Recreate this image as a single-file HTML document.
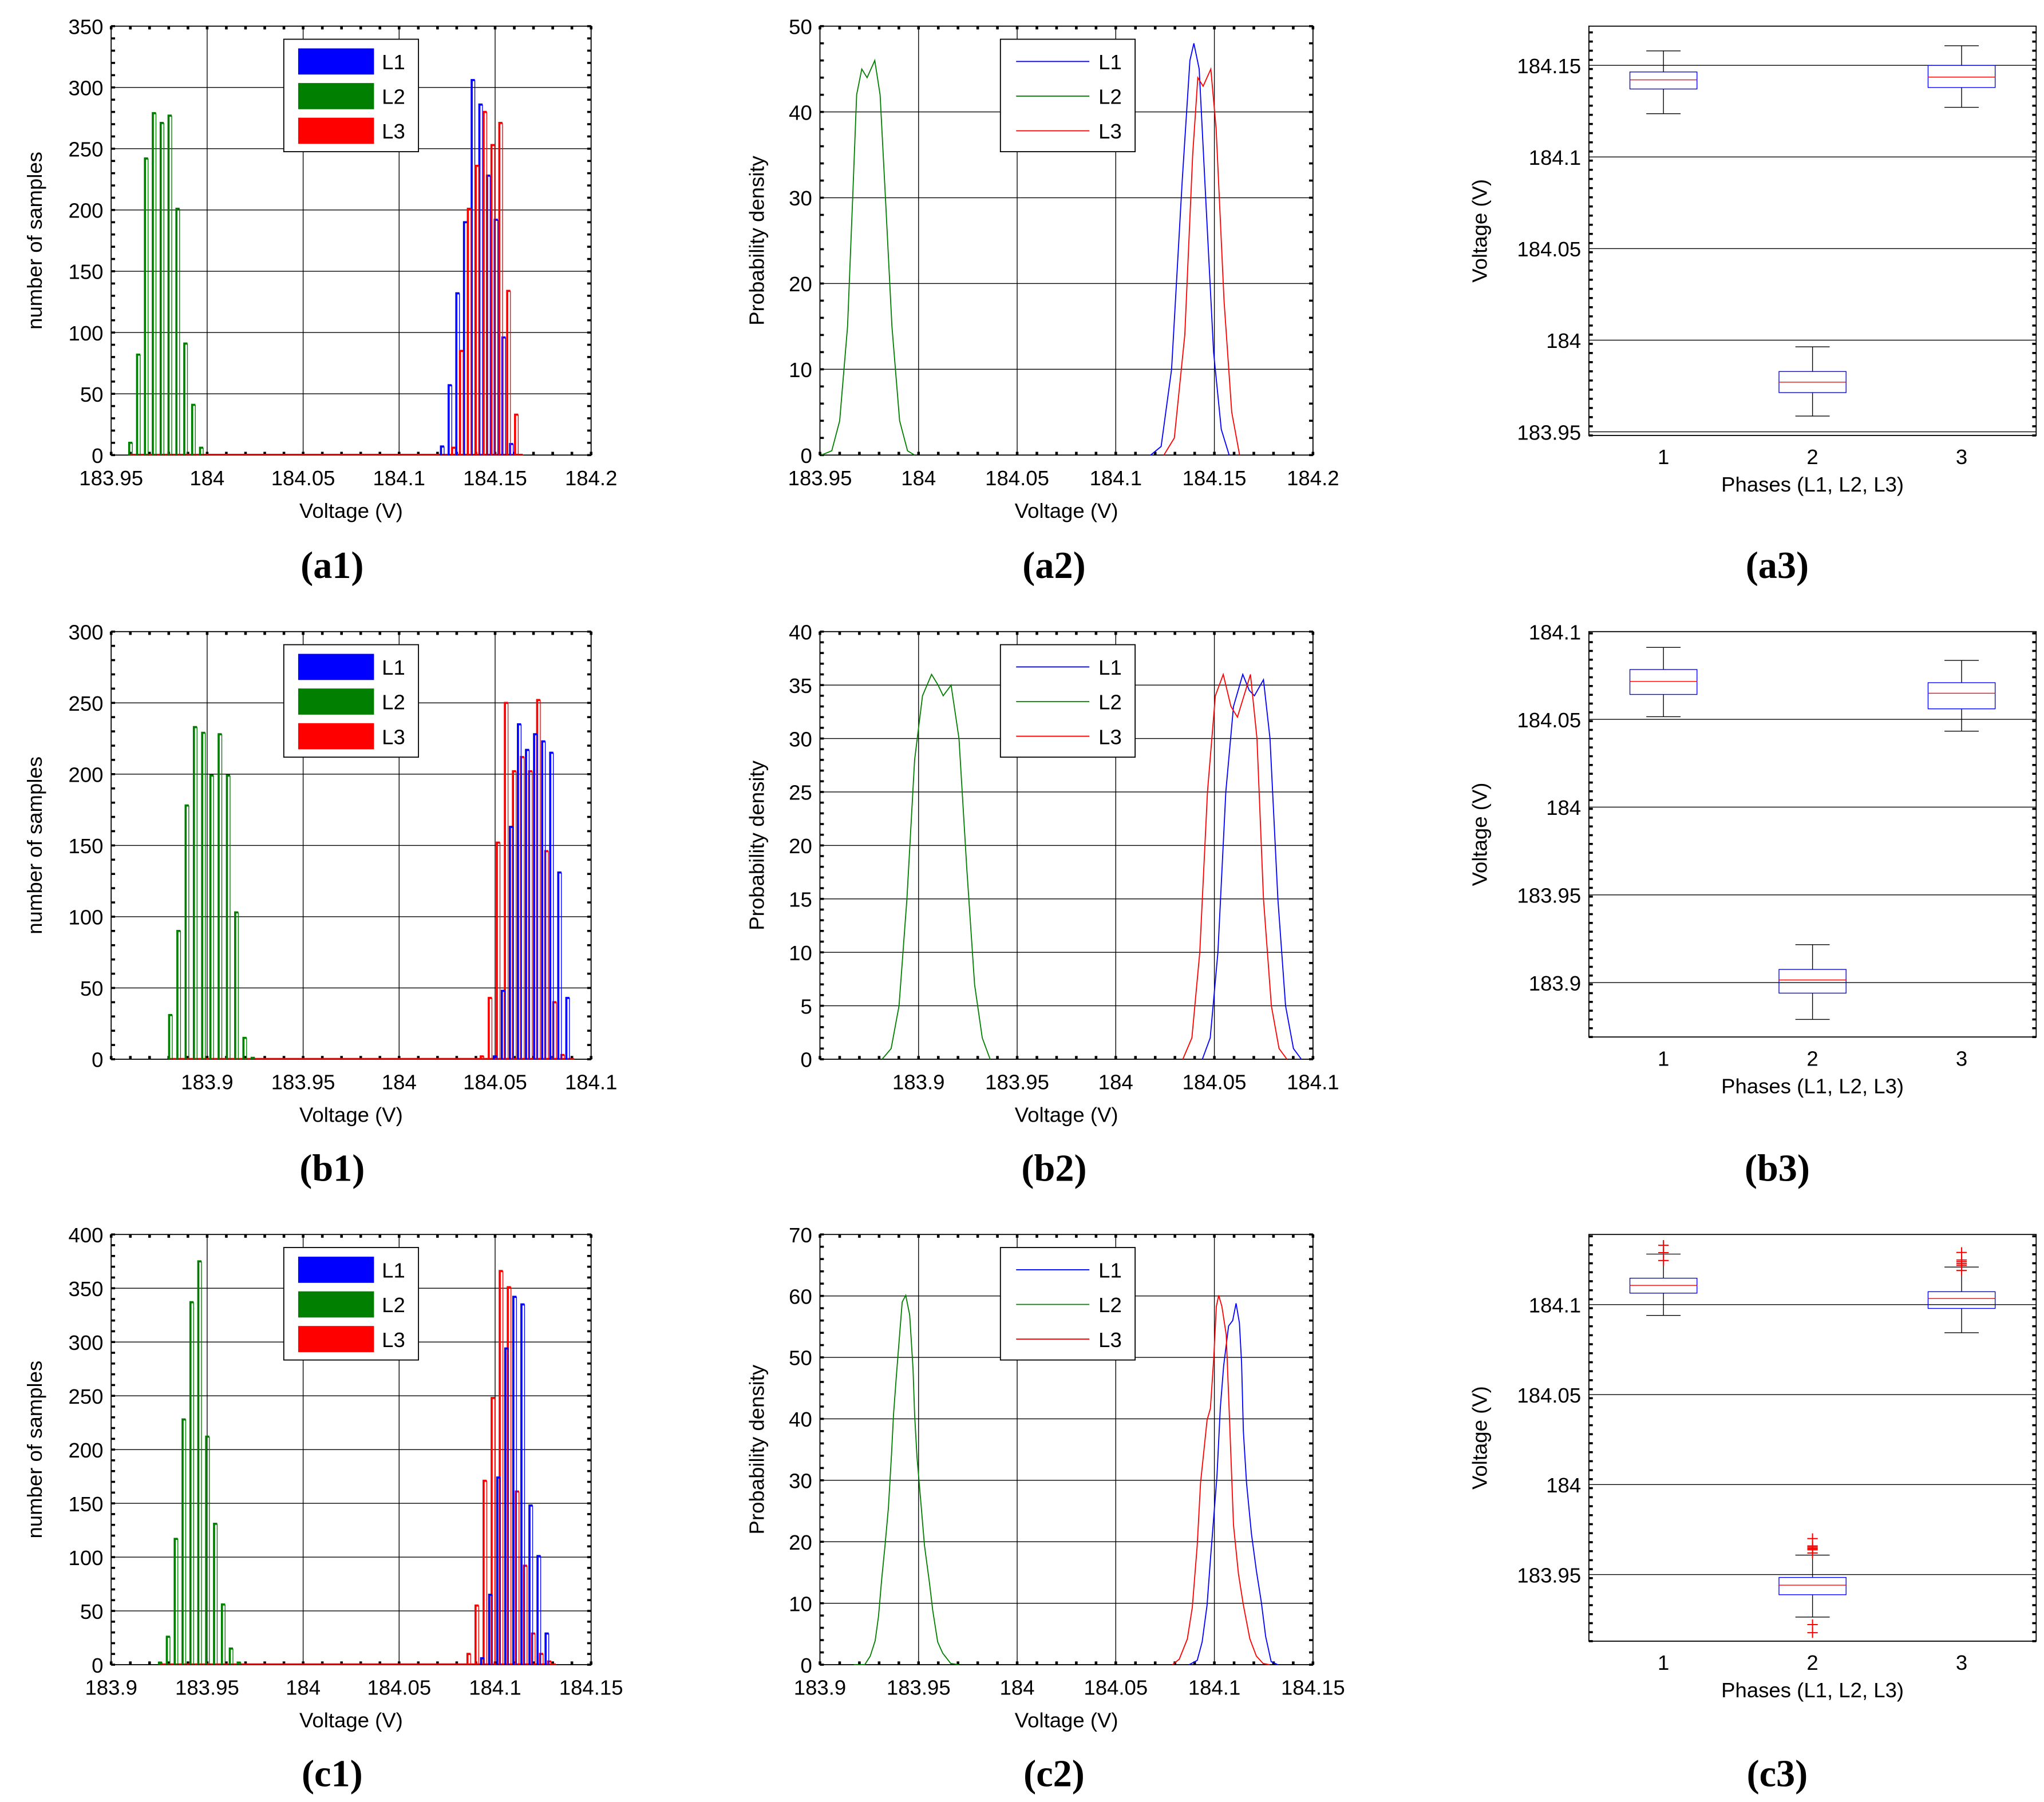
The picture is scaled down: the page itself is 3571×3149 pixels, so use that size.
<!DOCTYPE html>
<html><head><meta charset="utf-8"><style>
html,body{margin:0;padding:0;background:#fff}
svg{display:block}
text{font-family:"Liberation Sans",Arial,sans-serif;fill:#000}
.pl{font-family:"Liberation Serif",serif;font-weight:bold}
</style></head><body>
<svg id="fig" xmlns="http://www.w3.org/2000/svg" width="3571" height="3149" viewBox="0 0 1563 1378" preserveAspectRatio="none"></svg>
<script>
// ---------- histogram data ----------
const a1L1Start=184.1218, a1L1Step=0.0040, a1L1=[7,57,132,190,306,286,228,192,96,9];
const a1L2Start=183.9594, a1L2Step=0.0041, a1L2=[10,82,242,279,271,277,201,91,41,6];
const a1L3Start=184.1276, a1L3Step=0.0041, a1L3=[6,85,201,236,280,253,271,134,33];
const b1L1Start=184.0493, b1L1Step=0.0042, b1L1=[2,48,163,235,217,228,223,215,131,43];
const b1L2Start=183.8802, b1L2Step=0.0043, b1L2=[31,90,178,233,229,199,228,199,103,15,1];
const b1L3Start=184.0425, b1L3Step=0.0042, b1L3=[2,43,152,250,202,212,202,252,146,40,3];
const c1L1Start=184.0927, c1L1Step=0.0042, c1L1=[6,65,174,294,342,335,148,101,29];
const c1L2Start=183.9249, c1L2Step=0.0041, c1L2=[2,26,117,228,337,375,212,131,56,15,2];
const c1L3Start=184.0856, c1L3Step=0.0042, c1L3=[10,55,171,248,366,351,161,92,29,10,3];
// ---------- density data ----------
const a2L2x=[183.9507,183.956,183.960,183.964,183.9666,183.9686,183.9712,183.9739,183.9778,183.9805,183.9832,183.9865,183.9904,183.9944,183.998];
const a2L2y=[0,0.5,4,15,30,42,45,44,46,42,30,15,4,0.5,0];
const a2L1x=[184.1177,184.1230,184.1283,184.1337,184.1376,184.1396,184.1423,184.1456,184.1496,184.1535,184.1575];
const a2L1y=[0,1,10,32,46,48,45,30,12,3,0];
const a2L3x=[184.1244,184.1297,184.1350,184.1390,184.1416,184.1443,184.1482,184.1509,184.1549,184.1588,184.1628];
const a2L3y=[0,2,14,35,44,43,45,38,18,5,0];
const b2L2x=[183.8815,183.8861,183.8901,183.8941,183.8980,183.9020,183.9066,183.9099,183.9125,183.9165,183.9205,183.9244,183.9284,183.9323,183.9363];
const b2L2y=[0,1,5,15,28,34,36,35,34,35,30,18,7,2,0];
const b2L3x=[184.0340,184.0386,184.0426,184.0465,184.0505,184.0545,184.0584,184.0617,184.0650,184.0683,184.0716,184.0749,184.0789,184.0828,184.0868];
const b2L3y=[0,2,10,25,34,36,33,32,34,36,30,15,5,1,0];
const b2L1x=[184.0439,184.0479,184.0518,184.0558,184.0597,184.0644,184.0677,184.0703,184.0749,184.0782,184.0822,184.0861,184.0901,184.0941];
const b2L1y=[0,2,10,25,33,36,34.5,34,35.5,30,15,5,1,0];
const c2L2x=[183.9172,183.9227,183.9255,183.9280,183.9297,183.9313,183.9330,183.9347,183.9363,183.9373,183.9388,183.9417,183.9435,183.9455,183.9472,183.9480,183.9492,183.9513,183.9530,183.9555,183.9572,183.9597,183.9622,183.9663,183.9705];
const c2L2y=[0,0,1.4,3.9,7.9,13.9,19.4,25.5,34.3,40.7,47.2,59,60.1,56.9,48.1,40.7,33.8,25.9,19.4,13.4,8.8,3.7,1.9,0.2,0];
const c2L3x=[184.0788,184.0822,184.0863,184.0888,184.0913,184.0930,184.0963,184.0980,184.0997,184.1010,184.1022,184.1038,184.1060,184.1077,184.1097,184.1122,184.1147,184.1180,184.1213,184.1247,184.1280];
const c2L3y=[0,0.9,4.2,9.3,19.4,29.6,39.8,41.7,50,58.3,60.1,58.3,53.7,39.8,22.7,14.8,9.7,4.2,1.4,0.2,0];
const c2L1x=[184.0872,184.0913,184.0938,184.0963,184.0980,184.0997,184.1013,184.1030,184.1047,184.1072,184.1093,184.1110,184.1127,184.1138,184.1147,184.1163,184.1188,184.1213,184.1238,184.1260,184.1288,184.1322];
const c2L1y=[0,0.7,3.7,9.7,17.1,24.1,30.6,41.7,48.6,55.1,56,58.8,55.6,49.1,38,29.6,21.3,15.3,10.2,4.6,0.5,0];
// ---------- box plot data (phases 1,2,3) ----------
const a3Q1=[184.1371,183.9714,184.1379], a3Med=[184.1421,183.9771,184.1436], a3Q3=[184.1464,183.9829,184.15];
const a3Lo=[184.1236,183.9586,184.1271], a3Hi=[184.1579,183.9964,184.1607];
const b3Q1=[184.0642,183.894,184.056], b3Med=[184.0716,183.9015,184.0649], b3Q3=[184.0784,183.9075,184.0709];
const b3Lo=[184.0515,183.879,184.0433], b3Hi=[184.091,183.9216,184.0836];
const c3Q1=[184.1064,183.9388,184.0979], c3Med=[184.1107,183.9441,184.1034], c3Q3=[184.1147,183.9484,184.1072];
const c3Lo=[184.094,183.9264,184.0844], c3Hi=[184.1281,183.9608,184.1209];
const c3OutPhase=[1,1,1,2,2,2,2,2,2,2,2,3,3,3,3,3,3];
const c3OutVal=[184.133,184.1289,184.1245,183.9700,183.9659,183.9652,183.9645,183.9638,183.9620,183.9222,183.9177,184.129,184.1248,184.1238,184.1228,184.1218,184.1190];

const NS='http://www.w3.org/2000/svg';
const svg=document.getElementById('fig');
function el(tag,attrs,parent,txt){const e=document.createElementNS(NS,tag);for(const k in attrs)e.setAttribute(k,attrs[k]);if(txt!==undefined)e.textContent=txt;(parent||svg).appendChild(e);return e;}
function fmt(v){return String(+v.toFixed(4));}

function axes(c){
  const g=el('g',{});
  
  
  const sx=v=>c.L+(v-c.xmin)/(c.xmax-c.xmin)*(c.R-c.L);
  const sy=v=>c.B-(v-c.ymin)/(c.ymax-c.ymin)*(c.B-c.T);
  c.yt.forEach(v=>{const y=sy(v);if(y>c.T+1&&y<c.B-1)el('line',{x1:c.L,x2:c.R,y1:y,y2:y,stroke:'#000','stroke-width':0.6},g);});
  if(c.xgrid)c.xt.forEach(v=>{const x=sx(v);if(x>c.L+1&&x<c.R-1)el('line',{x1:x,x2:x,y1:c.T,y2:c.B,stroke:'#000','stroke-width':0.6},g);});
  for(let v=c.ymin;v<=c.ymax+1e-9;v+=c.ym){const y=sy(v);el('line',{x1:c.L,x2:c.L+3,y1:y,y2:y,stroke:'#000','stroke-width':1.6},g);el('line',{x1:c.R,x2:c.R-3,y1:y,y2:y,stroke:'#000','stroke-width':1.6},g);}
  if(c.xm)for(let v=c.xmin;v<=c.xmax+1e-9;v+=c.xm){const x=sx(v);el('line',{x1:x,x2:x,y1:c.T,y2:c.T+2.5,stroke:'#000','stroke-width':2},g);el('line',{x1:x,x2:x,y1:c.B,y2:c.B-2.5,stroke:'#000','stroke-width':2},g);}
  el('rect',{x:c.L,y:c.T,width:c.R-c.L,height:c.B-c.T,fill:'none',stroke:'#000','stroke-width':0.8},g);
  c.yt.forEach(v=>{const t=el('text',{x:c.L-6,y:sy(v)+6,'font-size':16,'text-anchor':'end'},g,fmt(v));});
  const xl=c.xlabels||c.xt.map(fmt);
  c.xt.forEach((v,i)=>{const t=el('text',{x:sx(v),y:c.B+c.tkoff,'font-size':16,'text-anchor':'middle'},g,xl[i]);});
  const xt=el('text',{x:(c.L+c.R)/2,y:c.B+c.lbloff,'font-size':16,'text-anchor':'middle'},g,c.xlabel);
  
  const ty=(c.T+c.B)/2;
  const yt=el('text',{x:c.ylx,y:ty,'font-size':16,'text-anchor':'middle',transform:`rotate(-90 ${c.ylx} ${ty})`},g,c.ylabel);
  
  const pl=el('text',{x:c.plx,y:c.ply,'font-size':29,'text-anchor':'middle',class:'pl'},g,c.panel);
  
  return {sx,sy,g};
}
const COL={L1:'#0000ff',L2:'#007f00',L3:'#ff0000'};

function hist(c,series){
  const a=axes(c);
  let mn=1e9,mx=-1e9;
  series.forEach(s=>{mn=Math.min(mn,s.start);mx=Math.max(mx,s.start+s.step*(s.vals.length-1));});
  el('line',{x1:a.sx(mn),x2:a.sx(mx+0.004),y1:a.sy(0)-0.5,y2:a.sy(0)-0.5,stroke:COL.L3,'stroke-width':1},a.g);
  series.forEach(s=>{
    s.vals.forEach((v,i)=>{
      const x=a.sx(s.start+i*s.step),b=a.sy(0),t=a.sy(v);
      const p=el('path',{d:`M${x},${b}V${t}H${x+2.4}`,fill:'none',stroke:COL[s.k],'stroke-width':1.6},a.g);
      
      
      el('line',{x1:x+2.4,x2:x+2.4,y1:t,y2:b,stroke:COL[s.k],'stroke-width':0.6},a.g);
    });
  });
  legend(a.g,217,c.T+10,'rect');
}
function pdf(c,series){
  const a=axes(c);
  series.forEach(s=>{
    const d=s.x.map((v,i)=>(i?'L':'M')+a.sx(v).toFixed(2)+','+a.sy(s.y[i]).toFixed(2)).join('');
    const p=el('path',{d:d,fill:'none',stroke:COL[s.k],'stroke-width':0.8},a.g);
    
    
  });
  legend(a.g,765,c.T+10,'line');
}
function legend(g,x,y,type){
  const lg=el('g',{},g);
  
  
  el('rect',{x:x,y:y,width:103,height:86,fill:'#fff',stroke:'#000','stroke-width':0.8},lg);
  ['L1','L2','L3'].forEach((k,i)=>{
    const cy=y+17+i*26.5;
    if(type==='rect')el('rect',{x:x+11,y:cy-10,width:58,height:20,fill:COL[k]},lg);
    else el('line',{x1:x+12,x2:x+68,y1:cy,y2:cy,stroke:COL[k],'stroke-width':0.8},lg);
    const t=el('text',{x:x+75,y:cy+6,'font-size':16},lg,k);
    
    
  });
}
function box(c,q1,med,q3,lo,hi,op,ov){
  const a=axes(c);
  for(let i=0;i<3;i++){
    const cx=a.sx(i+1),hw=a.sx(1.225)-a.sx(1),cw=a.sx(1.115)-a.sx(1);
    const bg=el('g',{},a.g);
    
    
    el('line',{x1:cx,x2:cx,y1:a.sy(hi[i]),y2:a.sy(q3[i]),stroke:'#000','stroke-width':0.6},bg);
    el('line',{x1:cx,x2:cx,y1:a.sy(lo[i]),y2:a.sy(q1[i]),stroke:'#000','stroke-width':0.6},bg);
    el('line',{x1:cx-cw,x2:cx+cw,y1:a.sy(hi[i]),y2:a.sy(hi[i]),stroke:'#000','stroke-width':0.6},bg);
    el('line',{x1:cx-cw,x2:cx+cw,y1:a.sy(lo[i]),y2:a.sy(lo[i]),stroke:'#000','stroke-width':0.6},bg);
    el('rect',{x:cx-hw,y:a.sy(q3[i]),width:2*hw,height:a.sy(q1[i])-a.sy(q3[i]),fill:'none',stroke:'#0000ff','stroke-width':0.6},bg);
    el('line',{x1:cx-hw,x2:cx+hw,y1:a.sy(med[i]),y2:a.sy(med[i]),stroke:'#ff0000','stroke-width':0.6},bg);
  }
  if(op)op.forEach((p,i)=>{
    const x=a.sx(p),y=a.sy(ov[i]);
    const m=el('path',{d:`M${x-4},${y}H${x+4}M${x},${y-4}V${y+4}`,stroke:'#ff0000','stroke-width':0.9,fill:'none'},a.g);
    
    
  });
}

const rows=[{T:20,B:348,ply:442},{T:483,B:810,ply:903},{T:944,B:1273,ply:1366}];
const base1={L:85,R:452,ylx:32,plx:254,xgrid:true,tkoff:23,lbloff:48,xlabel:'Voltage (V)',ylabel:'number of samples'};
const base2={L:627,R:1004,ylx:584,plx:806,xgrid:true,tkoff:23,lbloff:48,xlabel:'Voltage (V)',ylabel:'Probability density'};
const base3={L:1215,R:1557,ylx:1137,plx:1359,xgrid:false,xmin:0.5,xmax:3.5,xt:[1,2,3],tkoff:22,lbloff:43,xlabel:'Phases (L1, L2, L3)',ylabel:'Voltage (V)'};

hist(Object.assign({},base1,rows[0],{name:'a1',panel:'(a1)',xmin:183.95,xmax:184.2,ymin:0,ymax:350,xt:[183.95,184,184.05,184.1,184.15,184.2],yt:[0,50,100,150,200,250,300,350],ym:10,xm:0.01}),
 [{k:'L2',start:a1L2Start,step:a1L2Step,vals:a1L2},{k:'L1',start:a1L1Start,step:a1L1Step,vals:a1L1},{k:'L3',start:a1L3Start,step:a1L3Step,vals:a1L3}]);
hist(Object.assign({},base1,rows[1],{name:'b1',panel:'(b1)',xmin:183.85,xmax:184.1,ymin:0,ymax:300,xt:[183.9,183.95,184,184.05,184.1],yt:[0,50,100,150,200,250,300],ym:10,xm:0.01}),
 [{k:'L2',start:b1L2Start,step:b1L2Step,vals:b1L2},{k:'L3',start:b1L3Start,step:b1L3Step,vals:b1L3},{k:'L1',start:b1L1Start,step:b1L1Step,vals:b1L1}]);
hist(Object.assign({},base1,rows[2],{name:'c1',panel:'(c1)',xmin:183.9,xmax:184.15,ymin:0,ymax:400,xt:[183.9,183.95,184,184.05,184.1,184.15],yt:[0,50,100,150,200,250,300,350,400],ym:10,xm:0.01}),
 [{k:'L2',start:c1L2Start,step:c1L2Step,vals:c1L2},{k:'L3',start:c1L3Start,step:c1L3Step,vals:c1L3},{k:'L1',start:c1L1Start,step:c1L1Step,vals:c1L1}]);

pdf(Object.assign({},base2,rows[0],{name:'a2',panel:'(a2)',xmin:183.95,xmax:184.2,ymin:0,ymax:50,xt:[183.95,184,184.05,184.1,184.15,184.2],yt:[0,10,20,30,40,50],ym:2,xm:0.01}),
 [{k:'L2',x:a2L2x,y:a2L2y},{k:'L1',x:a2L1x,y:a2L1y},{k:'L3',x:a2L3x,y:a2L3y}]);
pdf(Object.assign({},base2,rows[1],{name:'b2',panel:'(b2)',xmin:183.85,xmax:184.1,ymin:0,ymax:40,xt:[183.9,183.95,184,184.05,184.1],yt:[0,5,10,15,20,25,30,35,40],ym:1,xm:0.01}),
 [{k:'L2',x:b2L2x,y:b2L2y},{k:'L1',x:b2L1x,y:b2L1y},{k:'L3',x:b2L3x,y:b2L3y}]);
pdf(Object.assign({},base2,rows[2],{name:'c2',panel:'(c2)',xmin:183.9,xmax:184.15,ymin:0,ymax:70,xt:[183.9,183.95,184,184.05,184.1,184.15],yt:[0,10,20,30,40,50,60,70],ym:2,xm:0.01}),
 [{k:'L2',x:c2L2x,y:c2L2y},{k:'L1',x:c2L1x,y:c2L1y},{k:'L3',x:c2L3x,y:c2L3y}]);

box(Object.assign({},base3,{T:20,B:333,ply:442,name:'a3',panel:'(a3)',ymin:183.948,ymax:184.1714,yt:[183.95,184,184.05,184.1,184.15],ym:0.005}),a3Q1,a3Med,a3Q3,a3Lo,a3Hi);
box(Object.assign({},base3,{T:483,B:793,ply:903,name:'b3',panel:'(b3)',ymin:183.869,ymax:184.1,yt:[183.9,183.95,184,184.05,184.1],ym:0.005}),b3Q1,b3Med,b3Q3,b3Lo,b3Hi);
box(Object.assign({},base3,{T:944,B:1255,ply:1366,name:'c3',panel:'(c3)',ymin:183.913,ymax:184.139,yt:[183.95,184,184.05,184.1],ym:0.005}),c3Q1,c3Med,c3Q3,c3Lo,c3Hi,c3OutPhase,c3OutVal);
</script>
</body></html>
